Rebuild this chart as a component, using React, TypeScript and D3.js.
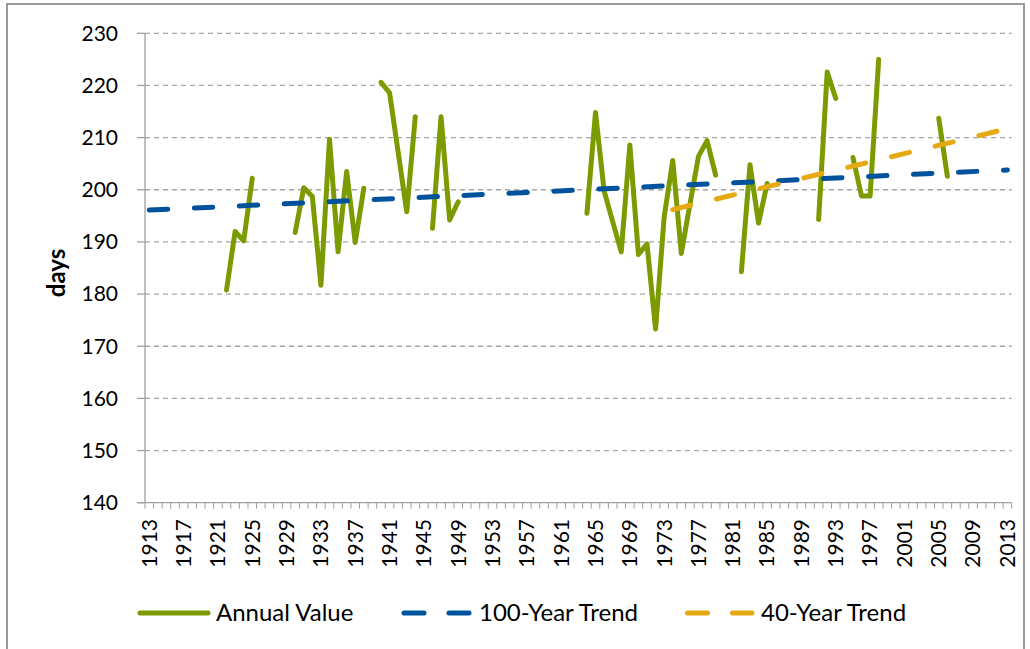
import React from "react";
import * as d3 from "d3";

// categories: one per year
const years: number[] = d3.range(1913, 2014);

// annual value (days), null where no observation
const annualValue: (number | null)[] = [
  null, null, null, null, null, null, null, null, null, // 1913-1921
  180.8, 192.0, 190.2, 202.2, // 1922-1925
  null, null, null, null, // 1926-1929
  191.8, 200.4, 198.7, 181.7, 209.7, 188.1, 203.5, 189.9, 200.3, // 1930-1938
  null, // 1939
  220.6, 218.6, 207.2, 195.8, 214.0, // 1940-1944
  null, // 1945
  192.6, 214.0, 194.2, 197.7, // 1946-1949
  null, null, null, null, null, null, null, null, null, null, null, null, null, null, // 1950-1963
  195.5, 214.8, 199.8, 193.9, 188.1, 208.6, 187.6, 189.6, 173.3, 194.8, 205.6, 187.8, 197.2, 206.4, 209.4, 202.8, // 1964-1979
  null, null, // 1980-1981
  184.3, 204.8, 193.6, 201.2, // 1982-1985
  null, null, null, null, null, // 1986-1990
  194.3, 222.6, 217.5, // 1991-1993
  null, // 1994
  206.2, 198.8, 198.8, 225.0, // 1995-1998
  null, null, null, null, null, null, // 1999-2004
  213.7, 202.6, // 2005-2006
  null, null, null, null, null, null, null, // 2007-2013
];

// trend lines (end points)
const trend100Years = [1913, 2013];
const trend100Values = [196.1, 203.8];
const trend40Years = [1974, 2013];
const trend40Values = [196.2, 211.7];

const yTicks = [140, 150, 160, 170, 180, 190, 200, 210, 220, 230];

const legendLabels = ["Annual Value", "100-Year Trend", "40-Year Trend"];

const colors = {
  annual: "#7b9b00",
  t100: "#00529c",
  t40: "#e6a914",
  grid: "#a6a6a6",
  axis: "#a0a0a0",
  text: "#000000",
};

const font = "Lato, 'Open Sans', sans-serif";

const W = 1030;
const H = 649;
const left = 145;
const right = 1011.7;
const top = 33.3;
const bottom = 502.7;

export default function App() {
  const x = d3.scaleBand<number>().domain(years).range([left, right]).paddingInner(0).paddingOuter(0);
  const bw = x.bandwidth();
  const cx = (yr: number) => (x(yr) as number) + bw / 2;
  const y = d3.scaleLinear().domain([140, 230]).range([bottom, top]);

  const annualLine = d3
    .line<number | null>()
    .defined((d) => d !== null)
    .x((_, i) => cx(years[i]))
    .y((d) => y(d as number));

  const t100Path = d3.line<number>()
    .x((_, i) => cx(trend100Years[i]))
    .y((d) => y(d))(trend100Values);
  const t40Path = d3.line<number>()
    .x((_, i) => cx(trend40Years[i]))
    .y((d) => y(d))(trend40Values);

  const legendY = 613;

  return (
    <svg width={W} height={H} style={{ position: "absolute", left: 0, top: 0, background: "#fff" }}>
      <rect x={7} y={4} width={1017} height={680} fill="#fff" stroke="#9a9a9a" strokeWidth={2} />

      {/* gridlines */}
      {yTicks.filter((t) => t !== 140).map((t) => (
        <line key={"g" + t} x1={left} x2={right} y1={y(t)} y2={y(t)}
          stroke={colors.grid} strokeWidth={1.3} strokeDasharray="5,4" />
      ))}

      {/* y axis */}
      <line x1={left} x2={left} y1={top} y2={bottom} stroke={colors.axis} strokeWidth={1.3} />
      {yTicks.map((t) => (
        <g key={"yt" + t}>
          <line x1={left - 8} x2={left} y1={y(t)} y2={y(t)} stroke={colors.axis} strokeWidth={1.3} />
          <text x={118} y={y(t)} dy="0.35em" textAnchor="end" fontFamily={font} fontSize={21} fill={colors.text}>
            {t}
          </text>
        </g>
      ))}
      <text transform={`translate(57, ${(top + bottom) / 2 + 5}) rotate(-90)`} textAnchor="middle" dy="0.35em"
        fontFamily={font} fontSize={24} fontWeight="bold" fill={colors.text}>
        days
      </text>

      {/* x axis */}
      <line x1={left - 8} x2={right} y1={bottom} y2={bottom} stroke={colors.axis} strokeWidth={1.3} />
      {years.map((yr) => (
        <line key={"xt" + yr} x1={x(yr) as number} x2={x(yr) as number} y1={bottom} y2={bottom + 6}
          stroke={colors.axis} strokeWidth={1} />
      ))}
      <line x1={right} x2={right} y1={bottom} y2={bottom + 6} stroke={colors.axis} strokeWidth={1} />
      {years.filter((_, i) => i % 4 === 0).map((yr) => (
        <text key={"xl" + yr} transform={`translate(${cx(yr)}, 519) rotate(-90)`} textAnchor="end" dy="0.35em"
          fontFamily={font} fontSize={21} fill={colors.text}>
          {yr}
        </text>
      ))}

      {/* series */}
      <path d={annualLine(annualValue) || ""} fill="none" stroke={colors.annual} strokeWidth={5}
        strokeLinejoin="round" strokeLinecap="round" />
      <path d={t100Path || ""} fill="none" stroke={colors.t100} strokeWidth={5}
        strokeLinecap="round" strokeDasharray="18.5,26.5" />
      <path d={t40Path || ""} fill="none" stroke={colors.t40} strokeWidth={5}
        strokeLinecap="round" strokeDasharray="18.5,26.5" />

      {/* legend */}
      <line x1={140} x2={208} y1={legendY} y2={legendY} stroke={colors.annual} strokeWidth={5} strokeLinecap="round" />
      <text x={216} y={legendY} dy="0.35em" fontFamily={font} fontSize={24} fill={colors.text}>{legendLabels[0]}</text>
      <line x1={404} x2={470} y1={legendY} y2={legendY} stroke={colors.t100} strokeWidth={5}
        strokeLinecap="round" strokeDasharray="20,25" />
      <text x={479} y={legendY} dy="0.35em" fontFamily={font} fontSize={24} fill={colors.text}>{legendLabels[1]}</text>
      <line x1={687.5} x2={752} y1={legendY} y2={legendY} stroke={colors.t40} strokeWidth={5}
        strokeLinecap="round" strokeDasharray="20,25" />
      <text x={761} y={legendY} dy="0.35em" fontFamily={font} fontSize={24} fill={colors.text}>{legendLabels[2]}</text>
    </svg>
  );
}
